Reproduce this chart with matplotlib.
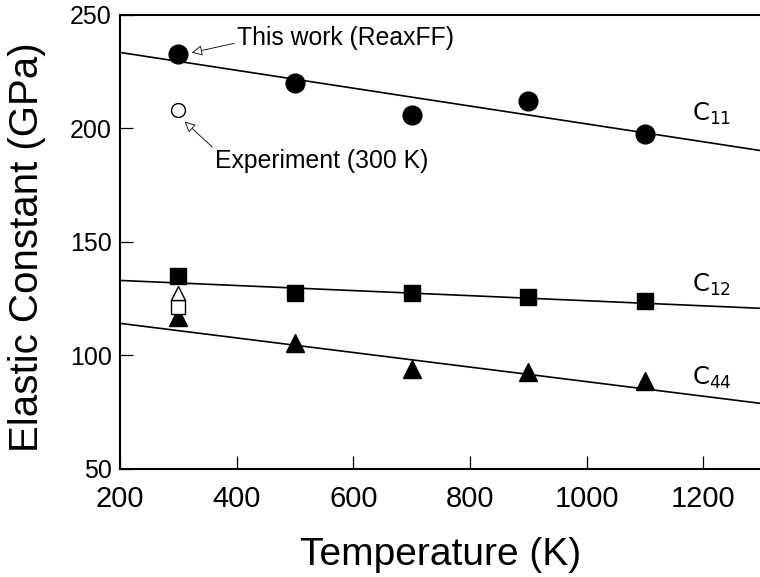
import matplotlib
matplotlib.use("Agg")
import matplotlib.pyplot as plt
import numpy as np

# ---- data ----
temps = [300, 500, 700, 900, 1100]
c11 = [232.6, 219.7, 205.7, 212.0, 197.4]
c12 = [134.8, 127.2, 127.2, 125.4, 123.7]
c44 = [116.9, 105.2, 93.9, 92.7, 88.4]

exp_temp = [300]
exp_c11 = [207.9]
exp_c12 = [121.2]
exp_c44 = [127.3]

fit_x = [200, 1300]
fit_c11 = [233.3, 190.0]
fit_c12 = [132.9, 120.6]
fit_c44 = [114.0, 78.7]

xticks = [200, 400, 600, 800, 1000, 1200]
yticks = [50, 100, 150, 200, 250]

W, H = 760, 577
fig = plt.figure(figsize=(W / 100, H / 100), dpi=100)
ax = fig.add_axes([120 / W, (H - 468.7) / H, (761.8 - 120) / W, (468.7 - 14.5) / H])

arial = ['Liberation Sans', 'DejaVu Sans']

# fit lines
for fy in (fit_c11, fit_c12, fit_c44):
    ax.plot(fit_x, fy, color='black', lw=1.2, zorder=2)

# simulated points
ax.plot(temps, c11, 'o', color='black', ms=13.5, zorder=3)
ax.plot(temps, c12, 's', color='black', ms=12, zorder=3)
ax.plot(temps, c44, '^', color='black', ms=13, zorder=3)

# experimental points
ax.plot(exp_temp, exp_c11, 'o', mfc='white', mec='black', mew=1.0, ms=10, zorder=4)
ax.plot(exp_temp, exp_c12, 's', mfc='white', mec='black', mew=1.0, ms=10, zorder=4)
ax.plot(exp_temp, exp_c44, '^', mfc='white', mec='black', mew=1.0, ms=10, zorder=4)

ax.set_xlim(200, 1300)
ax.set_ylim(50, 250)
ax.set_xticks(xticks)
ax.set_yticks(yticks)
ax.tick_params(direction='in', length=9.5, width=0.9, which='major',
               top=False, right=False)
ax.tick_params(axis='x', pad=12)
ax.tick_params(axis='y', pad=6)
for lab in ax.get_xticklabels():
    lab.set_fontfamily(arial)
    lab.set_fontsize(21)
for lab in ax.get_yticklabels():
    lab.set_fontfamily(arial)
    lab.set_fontsize(18)

for s in ('left', 'bottom', 'top'):
    ax.spines[s].set_linewidth(1.5)
ax.spines['right'].set_visible(False)

ax.set_xlabel('Temperature (K)', fontsize=28, family=arial, labelpad=17)
ax.set_ylabel('Elastic Constant (GPa)', fontsize=29, family=arial)
ax.yaxis.set_label_coords(-0.1153, 0.488)

# series labels
plt.rcParams['mathtext.fontset'] = 'dejavusans'
ax.text(1180, 203.1, 'C$_{11}$', fontsize=17.5, family='DejaVu Sans', va='baseline')
ax.text(1180, 127.8, 'C$_{12}$', fontsize=17.5, family='DejaVu Sans', va='baseline')
ax.text(1180, 86.8, 'C$_{44}$', fontsize=17.5, family='DejaVu Sans', va='baseline')

# annotations
arrow = dict(arrowstyle='-|>', fc='white', ec='black', lw=0.6,
             mutation_scale=16, shrinkA=0, shrinkB=0)
ax.annotate('This work (ReaxFF)', xy=(323, 233.2), xytext=(400.5, 236.6),
            fontsize=17.8, family=arial, va='baseline', ha='left',
            arrowprops=dict(arrow, relpos=(0, 0.3)))
ax.annotate('Experiment (300 K)', xy=(311, 202.8), xytext=(362.8, 182.2),
            fontsize=17.8, family=arial, va='baseline', ha='left',
            arrowprops=dict(arrow, relpos=(0, 1.0)))

fig.savefig('out.png', dpi=100)
